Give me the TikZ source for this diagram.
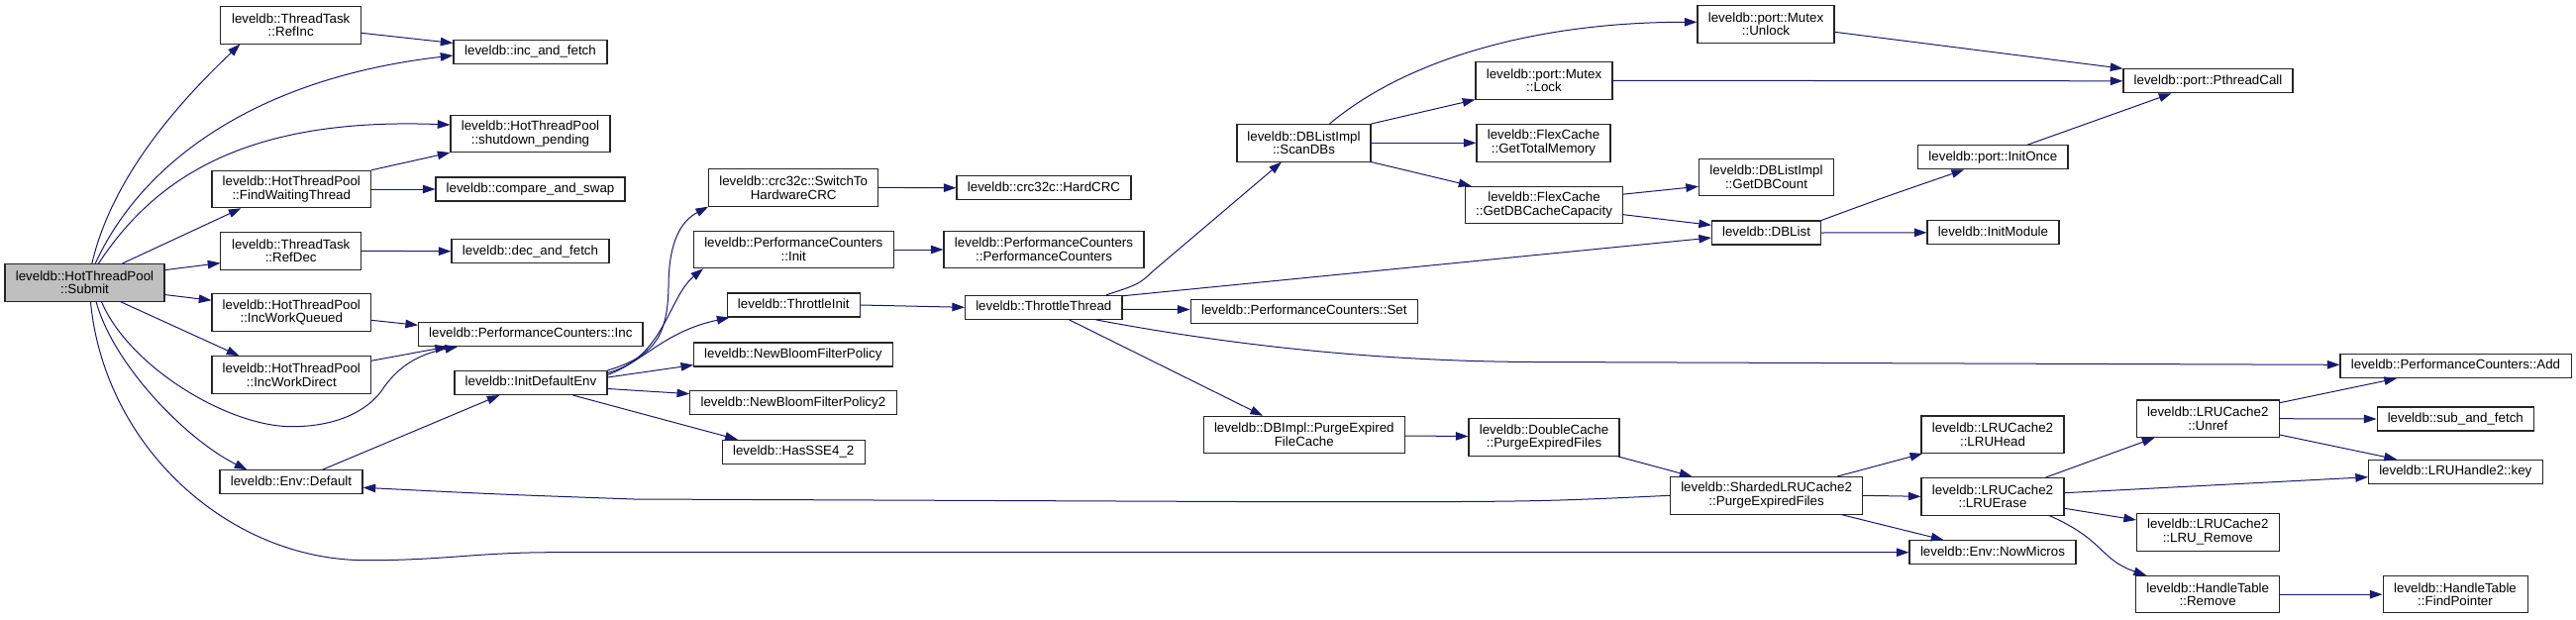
\documentclass[tikz,border=0pt]{standalone}
\usepackage{fontspec}
\setmainfont{Liberation Sans}
\usetikzlibrary{arrows.meta,calc}
\definecolor{edgecol}{HTML}{191970}
\definecolor{gfill}{HTML}{BFBFBF}
\begin{document}
\begin{tikzpicture}[x=0.75pt,y=-0.75pt,
  box/.style={draw=black!85, line width=0.8pt, fill=white, inner sep=0pt, align=center, font=\fontsize{10}{10.3}\selectfont},
  htwo/.style={minimum height=28.1pt},
  hone/.style={minimum height=18pt, text height=7.4pt, text depth=2.2pt},
  wd/.style={minimum width=#1*0.75pt},
  ed/.style={draw=edgecol, line width=0.75pt, -{Triangle[length=9.5pt,width=6.4pt]}}
]
\useasboundingbox (0,0) rectangle (2601,625);
\fill[white] (0,0) rectangle (2601,625);

\node[box,htwo,wd=161,fill=gfill] (submit) at (85.5,285.3) {leveldb::HotThreadPool\\::Submit};
\node[box,htwo,wd=141.5] (refinc) at (293.7,25.3) {leveldb::ThreadTask\\::RefInc};
\node[box,hone,wd=155] (incfetch) at (535.5,52.5) {leveldb::inc\_and\_fetch};
\node[box,htwo,wd=161] (shutdown) at (535.5,134.8) {leveldb::HotThreadPool\\::shutdown\_pending};
\node[box,htwo,wd=160.6] (findwait) at (294.3,191) {leveldb::HotThreadPool\\::FindWaitingThread};
\node[box,hone,wd=191] (cas) at (535.5,191) {leveldb::compare\_and\_swap};
\node[box,htwo,wd=141.5] (refdec) at (293.7,253.3) {leveldb::ThreadTask\\::RefDec};
\node[box,hone,wd=159] (decfetch) at (535.5,253.7) {leveldb::dec\_and\_fetch};
\node[box,htwo,wd=160.6] (incwq) at (294.3,315.5) {leveldb::HotThreadPool\\::IncWorkQueued};
\node[box,hone,wd=226.4] (pcinc) at (535.8,337.5) {leveldb::PerformanceCounters::Inc};
\node[box,htwo,wd=160.6] (incwd) at (294.3,378.5) {leveldb::HotThreadPool\\::IncWorkDirect};
\node[box,hone,wd=154] (initdef) at (536,386.5) {leveldb::InitDefaultEnv};
\node[box,hone,wd=144] (envdef) at (294,486.8) {leveldb::Env::Default};
\node[box,htwo,wd=171] (switchhw) at (801.2,189.4) {leveldb::crc32c::SwitchTo\\HardwareCRC};
\node[box,hone,wd=176] (hardcrc) at (1054,189.7) {leveldb::crc32c::HardCRC};
\node[box,htwo,wd=201.5] (pcinit) at (801.3,252) {leveldb::PerformanceCounters\\::Init};
\node[box,htwo,wd=202] (pcpc) at (1054,252) {leveldb::PerformanceCounters\\::PerformanceCounters};
\node[box,hone,wd=134.5] (thrinit) at (801.3,308) {leveldb::ThrottleInit};
\node[box,hone,wd=200.3] (nbfp) at (800.9,358) {leveldb::NewBloomFilterPolicy};
\node[box,hone,wd=208.3] (nbfp2) at (800.9,406.9) {leveldb::NewBloomFilterPolicy2};
\node[box,hone,wd=143.7] (sse) at (801.2,456.3) {leveldb::HasSSE4\_2};
\node[box,hone,wd=158.4] (thrthread) at (1053.8,310.3) {leveldb::ThrottleThread};
\node[box,hone,wd=229.5] (pcset) at (1316.8,314.5) {leveldb::PerformanceCounters::Set};
\node[box,htwo,wd=135] (scandbs) at (1316.5,144.3) {leveldb::DBListImpl\\::ScanDBs};
\node[box,htwo,wd=138] (unlock) at (1783,24.3) {leveldb::port::Mutex\\::Unlock};
\node[box,htwo,wd=138] (lock) at (1559,81.3) {leveldb::port::Mutex\\::Lock};
\node[box,htwo,wd=135] (totmem) at (1558.5,144.3) {leveldb::FlexCache\\::GetTotalMemory};
\node[box,htwo,wd=136] (dbcount) at (1783.5,179) {leveldb::DBListImpl\\::GetDBCount};
\node[box,htwo,wd=159] (dbcap) at (1559,207) {leveldb::FlexCache\\::GetDBCacheCapacity};
\node[box,hone,wd=110] (dblist) at (1783.5,235) {leveldb::DBList};
\node[box,hone,wd=171] (pthread) at (2229.5,81.8) {leveldb::port::PthreadCall};
\node[box,hone,wd=151.3] (initonce) at (2012.3,158.8) {leveldb::port::InitOnce};
\node[box,hone,wd=133] (initmod) at (2012.5,234.8) {leveldb::InitModule};
\node[box,hone,wd=233] (pcadd) at (2479.5,369.5) {leveldb::PerformanceCounters::Add};
\node[box,htwo,wd=203.5] (dbipurge) at (1316.8,439) {leveldb::DBImpl::PurgeExpired\\FileCache};
\node[box,htwo,wd=152] (dcpurge) at (1559,441.5) {leveldb::DoubleCache\\::PurgeExpiredFiles};
\node[box,htwo,wd=194] (sharded) at (1783.6,500.3) {leveldb::ShardedLRUCache2\\::PurgeExpiredFiles};
\node[box,htwo,wd=144] (lruhead) at (2012,438.7) {leveldb::LRUCache2\\::LRUHead};
\node[box,htwo,wd=144] (lruerase) at (2012,501.3) {leveldb::LRUCache2\\::LRUErase};
\node[box,hone,wd=168] (nowmicros) at (2012,557.7) {leveldb::Env::NowMicros};
\node[box,htwo,wd=143.5] (unref) at (2229.3,422.7) {leveldb::LRUCache2\\::Unref};
\node[box,hone,wd=158.5] (subfetch) at (2479.3,423) {leveldb::sub\_and\_fetch};
\node[box,hone,wd=175.5] (key) at (2479.3,476.3) {leveldb::LRUHandle2::key};
\node[box,htwo,wd=143.5] (lruremove) at (2229.3,537.3) {leveldb::LRUCache2\\::LRU\_Remove};
\node[box,htwo,wd=145] (htremove) at (2229.2,600.2) {leveldb::HandleTable\\::Remove};
\node[box,htwo,wd=146] (findptr) at (2479,600.2) {leveldb::HandleTable\\::FindPointer};

% Submit
\draw[ed] ($(submit.north west)+(88.4,0)$) .. controls (115,170) and (195,90) .. ($(refinc.south west)+(20,0)$);
\draw[ed] ($(submit.north west)+(91.8,0)$) .. controls (140,170) and (250,80) .. ($(incfetch.west)+(0,3.5)$);
\draw[ed] ($(submit.north west)+(95,0)$) .. controls (155,182) and (245,118) .. ($(shutdown.west)+(0,-8.8)$);
\draw[ed] ($(submit.north west)+(119,0)$) -- ($(findwait.south west)+(30,0)$);
\draw[ed] ($(submit.north east)+(0,6.6)$) -- ($(refdec.south west)+(0,-7)$);
\draw[ed] ($(submit.south east)+(0,-7)$) -- ($(incwq.north west)+(0,7)$);
\draw[ed] ($(submit.south west)+(117,0)$) -- ($(incwd.north west)+(28,0)$);
\draw[ed] ($(submit.south west)+(98,0)$) .. controls (130,370) and (230,430.7) .. (294.6,430.7) .. controls (340,430.7) and (370,415) .. (385,395) .. controls (400,372) and (420,358) .. ($(pcinc.south west)+(40,0)$);
\draw[ed] ($(submit.south west)+(92.6,0)$) .. controls (115,370) and (190,445) .. ($(envdef.north west)+(28,0)$);
\draw[ed] ($(submit.south west)+(87,0)$) .. controls (105,450) and (230,565.7) .. (370,565.7) .. controls (450,565.7) and (480,557.7) .. (560,557.7) -- (nowmicros.west);

\draw[ed] ($(refinc.east)+(0,8)$) -- ($(incfetch.north west)+(0,3.5)$);
\draw[ed] (findwait.north east) -- (shutdown.south west);
\draw[ed] (findwait.east) -- (cas.west);
\draw[ed] (refdec.east) -- (decfetch.west);
\draw[ed] ($(incwq.east)+(0,7.8)$) -- ($(pcinc.west)+(0,-9.2)$);
\draw[ed] ($(incwd.north east)+(0,5)$) -- ($(pcinc.south west)+(30,0)$);
\draw[ed] ($(envdef.north west)+(104,0)$) -- ($(initdef.south west)+(46,0)$);
\draw[ed] (sharded.west) .. controls (1550,506.7) .. (1300,506.7) -- (640,504) .. controls (500,499) .. ($(envdef.east)+(0,5.5)$);

% InitDefaultEnv
\draw[ed] (initdef.north east) .. controls (660,360) and (674,340) .. (675,290) .. controls (675,240) and (690,222) .. (switchhw.south west);
\draw[ed] ($(initdef.north east)+(0,2.5)$) .. controls (670,362) and (675,300) .. ($(pcinit.south west)+(10,0)$);
\draw[ed] ($(initdef.north east)+(0,4.5)$) .. controls (650,365) and (670,335) .. ($(thrinit.south west)+(3,0)$);
\draw[ed] ($(initdef.east)+(0,-5.5)$) -- ($(nbfp.south west)+(0,-2)$);
\draw[ed] ($(initdef.east)+(0,6)$) -- ($(nbfp2.north west)+(0,3.3)$);
\draw[ed] ($(initdef.south west)+(120,0)$) -- ($(sse.north west)+(16,0)$);

\draw[ed] (switchhw.east) -- (hardcrc.west);
\draw[ed] (pcinit.east) -- (pcpc.west);
\draw[ed] (thrinit.east) -- (thrthread.west);

% ThrottleThread
\draw[ed] ($(thrthread.north west)+(143,0)$) .. controls (1150,287) .. (1165,273) -- ($(scandbs.south west)+(45.5,0)$);
\draw[ed] ($(thrthread.north east)+(0,1)$) -- ($(dblist.west)+(0,5)$);
\draw[ed] ($(thrthread.east)+(0,2)$) -- ($(pcset.west)+(0,-2)$);
\draw[ed] ($(thrthread.south west)+(132.4,0)$) .. controls (1250,350) and (1400,365) .. (1550,365.5) -- ($(pcadd.west)+(0,-1.2)$);
\draw[ed] ($(thrthread.south west)+(105.4,0)$) -- ($(dbipurge.north west)+(60.5,0)$);

% ScanDBs
\draw[ed] ($(scandbs.north west)+(94,0)$) .. controls (1420,60) and (1550,22.3) .. ($(unlock.west)+(0,-2)$);
\draw[ed] (scandbs.north east) -- (lock.south west);
\draw[ed] (scandbs.east) -- (totmem.west);
\draw[ed] (scandbs.south east) -- ($(dbcap.north west)+(6.5,0)$);
\draw[ed] ($(dbcap.north east)+(0,8.4)$) -- ($(dbcount.west)+(0,9.3)$);
\draw[ed] ($(dbcap.east)+(0,9.7)$) -- ($(dblist.west)+(0,-7.7)$);
\draw[ed] (dblist.north east) .. controls (1900,200) .. ($(initonce.south west)+(47,0)$);
\draw[ed] (dblist.east) -- (initmod.west);
\draw[ed] ($(unlock.east)+(0,8)$) -- (pthread.north west);
\draw[ed] (lock.east) -- (pthread.west);
\draw[ed] ($(initonce.north west)+(110.8,0)$) -- ($(pthread.south west)+(49,0)$);

% Purge chain
\draw[ed] ($(dbipurge.east)+(0,1)$) -- ($(dcpurge.west)+(0,-1)$);
\draw[ed] ($(dcpurge.south east)+(-2.3,0)$) -- ($(sharded.north west)+(22.4,0)$);
\draw[ed] ($(sharded.north east)+(-26,0)$) -- ($(lruhead.south west)+(1.7,0)$);
\draw[ed] (sharded.east) -- (lruerase.west);
\draw[ed] ($(sharded.south east)+(-22,0)$) -- ($(nowmicros.north west)+(35,0)$);
\draw[ed] ($(lruerase.north east)+(-19,0)$) -- ($(unref.south west)+(18.5,0)$);
\draw[ed] ($(lruerase.east)+(0,-3.6)$) -- ($(key.west)+(0,5.4)$);
\draw[ed] ($(lruerase.east)+(0,12)$) -- ($(lruremove.west)+(0,-12.3)$);
\draw[ed] ($(lruerase.south east)+(-15.4,0)$) .. controls (2125,545) and (2120,565) .. ($(htremove.north west)+(11,0)$);
\draw[ed] ($(unref.north east)+(0,3.3)$) -- ($(pcadd.south west)+(57.6,0)$);
\draw[ed] (unref.east) -- (subfetch.west);
\draw[ed] ($(unref.south east)+(0,-3)$) -- ($(key.north west)+(29,0)$);
\draw[ed] (htremove.east) -- (findptr.west);
\end{tikzpicture}
\end{document}
